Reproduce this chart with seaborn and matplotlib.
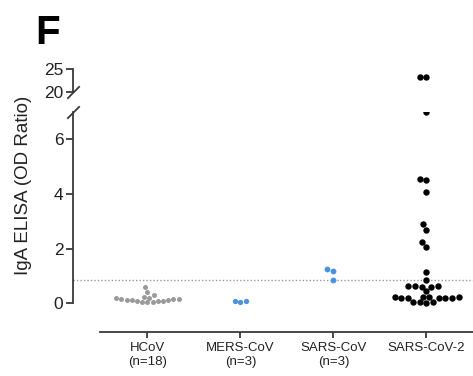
import pandas as pd
import numpy as np
import matplotlib
matplotlib.use("Agg")
import matplotlib.pyplot as plt
import seaborn as sns

sns.set_style("ticks")
plt.rcParams['font.family'] = ['Liberation Sans', 'DejaVu Sans']

# groups shown on the x axis
cats = ["HCoV", "MERS-CoV", "SARS-CoV", "SARS-CoV-2"]
tick_labels = ["HCoV\n(n=18)", "MERS-CoV\n(n=3)", "SARS-CoV\n(n=3)", "SARS-CoV-2"]

# IgA ELISA OD ratios
hcov = [0.03, 0.05, 0.06, 0.08, 0.09, 0.1, 0.11, 0.12, 0.13, 0.14,
        0.15, 0.17, 0.18, 0.2, 0.22, 0.3, 0.42, 0.58]
mers = [0.05, 0.08, 0.08]
sars = [1.2, 1.24, 0.87]
sars2 = [23.3, 23.3, 7.0, 4.55, 4.5, 4.07, 2.9, 2.7, 2.25, 2.07, 1.16,
         0.84, 0.64, 0.62, 0.62, 0.6, 0.6, 0.44,
         0.24, 0.23, 0.22, 0.22, 0.21, 0.2, 0.2, 0.19, 0.18,
         0.05, 0.04, 0.03, 0.02]
cutoff = 0.84

colors = {"HCoV": "#9a9a9a", "MERS-CoV": "#4a92e0", "SARS-CoV": "#4a92e0", "SARS-CoV-2": "black"}
sizes = {"HCoV": 3.6, "MERS-CoV": 3.8, "SARS-CoV": 4.2, "SARS-CoV-2": 4.6}

df = pd.DataFrame({
    "group": ["HCoV"] * len(hcov) + ["MERS-CoV"] * len(mers) + ["SARS-CoV"] * len(sars) + ["SARS-CoV-2"] * len(sars2),
    "value": hcov + mers + sars + sars2,
})

fig = plt.figure(figsize=(4.73, 3.76), dpi=100)
W, H = 473, 376
ax = fig.add_axes([73 / W, (H - 332) / H, 1 - 73 / W, (332 - 112) / H])
ax_top = fig.add_axes([73 / W, (H - 92) / H, 1 - 73 / W, (92 - 69) / H])

low = df[df["value"] <= 10]
high = df[df["value"] > 10]
for g in cats:
    sub = low[low["group"] == g]
    sns.swarmplot(data=sub, x="group", y="value", order=cats, color=colors[g],
                  size=sizes[g], ax=ax, linewidth=0)
    sub = high[high["group"] == g]
    if len(sub):
        sns.swarmplot(data=sub, x="group", y="value", order=cats, color=colors[g],
                      size=sizes[g], ax=ax_top, linewidth=0)

spine_col = "#3a3a3a"
for a in (ax, ax_top):
    a.set_xlim(-0.8, 3.5)
    a.set_xlabel("")
    a.set_ylabel("")
    a.spines["right"].set_visible(False)
    a.spines["top"].set_visible(False)
    for s in a.spines.values():
        s.set_color(spine_col)
        s.set_linewidth(1.3)
    a.tick_params(axis="y", labelsize=12.5, length=5, width=1.3, color=spine_col,
                  labelcolor="#222222", pad=2)

# lower part
ax.set_ylim(-1.05, 7)
ax.spines["left"].set_bounds(0, 7)
ax.spines["bottom"].set_bounds(-0.51, 3.5)
ax.set_yticks([0, 2, 4, 6])
ax.set_xticks(range(len(cats)))
ax.set_xticklabels(tick_labels)
ax.tick_params(axis="x", labelsize=9.5, length=4, width=1.3, color=spine_col,
               labelcolor="#222222", pad=3)
ax.axhline(cutoff, ls=(0, (1, 1.5)), color="#999999", lw=1, zorder=0)

# upper part
ax_top.set_ylim(20, 25)
ax_top.set_yticks([20, 25])
ax_top.spines["bottom"].set_visible(False)
ax_top.set_xticks([])

# axis break marks
brk = dict(marker=[(-1, -1), (1, 1)], markersize=9, linestyle="none",
           color=spine_col, mec=spine_col, mew=1.3, clip_on=False)
ax_top.plot([0], [0], transform=ax_top.transAxes, **brk)
ax.plot([0], [1], transform=ax.transAxes, **brk)

fig.text(24 / W, (H - 185) / H, "IgA ELISA (OD Ratio)", rotation=90,
         ha="center", va="center", fontsize=13.5, color="#222222")
fig.text(35 / W, (H - 44) / H, "F", fontsize=29, fontweight="bold", ha="left",
         va="baseline", color="black")

fig.savefig("out.png", dpi=100)
